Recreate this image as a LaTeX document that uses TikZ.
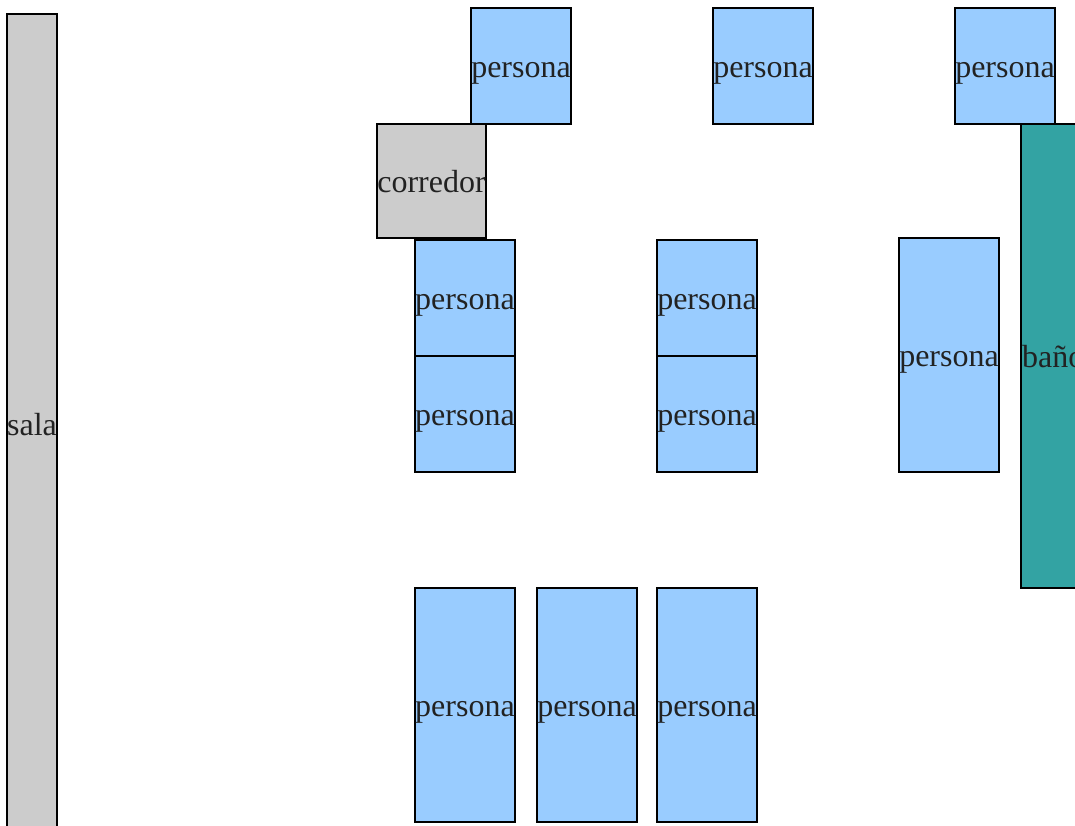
\documentclass[tikz,border=0pt]{standalone}
\usepackage{fontspec}
\setmainfont{Liberation Serif}
\definecolor{personfill}{HTML}{99CCFF}
\definecolor{roomgray}{HTML}{CCCCCC}
\definecolor{bathfill}{HTML}{33A3A3}
\definecolor{labeltext}{HTML}{222222}
\begin{document}
\begin{tikzpicture}[x=1pt,y=-1pt,
  room/.style={draw=black,line width=1.4pt,inner sep=0pt,outer sep=0pt,rectangle},
  person/.style={room,fill=personfill,minimum width=100pt},
  short/.style={minimum height=116pt},
  tall/.style={minimum height=234pt},
  txt/.style={font=\fontsize{32}{32}\selectfont,text=labeltext,inner sep=0pt,anchor=base,yshift=-11.5pt}]
\useasboundingbox (0,0) rectangle (1075,825);
\begin{scope}
\clip (0,0) rectangle (1075,825);
% hall along the left edge
\node[room,fill=roomgray,minimum width=50pt,minimum height=820pt] (sala) at (32,424) {};
% top row
\node[person,short] (p1) at (521,66) {};
\node[person,short] (p2) at (763,66) {};
\node[person,short] (p3) at (1005,66) {};
% corridor
\node[room,fill=roomgray,minimum width=109pt,minimum height=114pt] (corr) at (431.5,181) {};
% middle block
\node[person,short] (p4) at (465,298) {};
\node[person,short] (p5) at (465,414) {};
\node[person,short] (p6) at (707,298) {};
\node[person,short] (p7) at (707,414) {};
\node[person,tall] (p8) at (949,355) {};
% bathroom on the right edge
\node[room,fill=bathfill,minimum width=64pt,minimum height=464pt] (bano) at (1053,356) {};
% bottom row
\node[person,tall] (p9) at (465,705) {};
\node[person,tall] (p10) at (587,705) {};
\node[person,tall] (p11) at (707,705) {};
% room labels
\node[txt] (tsala) at (sala.center) {sala};
\node[txt] (tcorr) at (corr.center) {corredor};
\node[txt,anchor=base west] (tbano) at ([xshift=1pt]bano.west) {baño};
\foreach \p in {p1,p2,p3,p4,p5,p6,p7,p8,p9,p10,p11}
  \node[txt] (t\p) at (\p.center) {persona};
\end{scope}
\end{tikzpicture}
\end{document}
